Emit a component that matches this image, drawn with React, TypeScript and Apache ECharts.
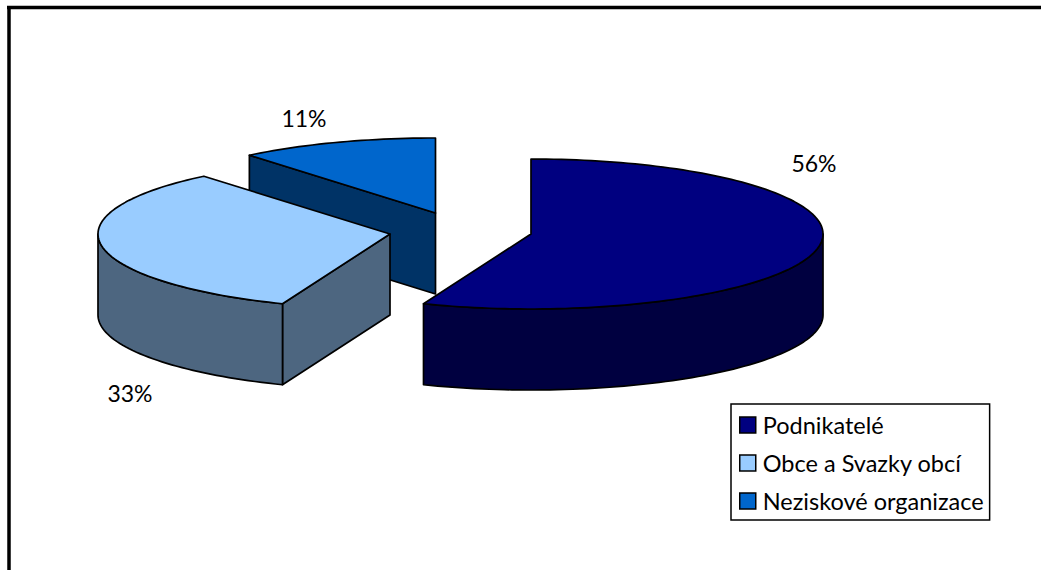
import React, { useEffect, useRef } from "react";
import * as echarts from "echarts";

const categories = ["Podnikatelé", "Obce a Svazky obcí", "Neziskové organizace"];
const values = [56, 33, 11];
const topColors = ["#000080", "#99CCFF", "#0066CC"];
const sideColors = ["#000040", "#4D6680", "#003366"];

// Layout of the exploded 3D pie (pixels)
const apexes = [[531, 234], [390, 234], [435.5, 213]];
const labelAnchors = [[814, 163], [130, 393], [304, 118]];
const RX = 292;
const RY = 75;
const DEPTH = 81;
const FONT = "Lato";
const STROKE = 1.7;

const total = values.reduce((a, b) => a + b, 0);
const startOf = (i: number) => (values.slice(0, i).reduce((a, b) => a + b, 0) / total) * 360;
const rad = (d: number) => (d * Math.PI) / 180;

function arcPoints(c: number[], from: number, to: number, dy = 0) {
  const steps = Math.max(1, Math.ceil((to - from) / 1.5));
  const pts: number[][] = [];
  for (let k = 0; k <= steps; k++) {
    const a = rad(from + ((to - from) * k) / steps);
    pts.push([c[0] + RX * Math.sin(a), c[1] - RY * Math.cos(a) + dy]);
  }
  return pts;
}

function makeRenderItem(i: number) {
  return (_params: any, api: any) => {
    const value = api.value(0) as number;
    const from = startOf(i);
    const to = from + (value / total) * 360;
    const c = apexes[i];
    const wallStyle = { fill: sideColors[i], stroke: "#000", lineWidth: STROKE, lineJoin: "round" };
    const children: any[] = [];
    const addWall = (p: number[]) =>
      children.push({
        type: "polygon",
        shape: { points: [c, p, [p[0], p[1] + DEPTH], [c[0], c[1] + DEPTH]] },
        style: wallStyle,
      });
    // A radial wall is seen only when its outward side points down the screen
    if (Math.sin(rad(from)) < -1e-6) addWall(arcPoints(c, from, from)[0]);
    if (Math.sin(rad(to)) > 1e-6) addWall(arcPoints(c, to, to)[0]);
    // Outer rim, front half only
    const rimFrom = Math.max(from, 90);
    const rimTo = Math.min(to, 270);
    if (rimTo > rimFrom) {
      const upper = arcPoints(c, rimFrom, rimTo);
      const lower = arcPoints(c, rimFrom, rimTo, DEPTH).reverse();
      children.push({
        type: "polygon",
        shape: { points: upper.concat(lower) },
        style: wallStyle,
      });
    }
    // Top face
    children.push({
      type: "polygon",
      shape: { points: [c, ...arcPoints(c, from, to)] },
      style: { fill: topColors[i], stroke: "#000", lineWidth: STROKE, lineJoin: "round" },
    });
    // Percentage label
    children.push({
      type: "text",
      x: labelAnchors[i][0],
      y: labelAnchors[i][1],
      style: {
        text: `${value}%`,
        fill: "#000",
        font: `23px ${FONT}`,
        align: "center",
        verticalAlign: "middle",
      },
    });
    return { type: "group", children };
  };
}

export default function App() {
  const ref = useRef<HTMLDivElement>(null);
  useEffect(() => {
    document.body.style.margin = "0";
    const chart = echarts.init(ref.current!, undefined, { renderer: "svg" });
    chart.setOption({
      animation: false,
      backgroundColor: "#fff",
      legend: {
        orient: "vertical",
        left: 731,
        top: 404,
        padding: [9, 6, 7, 8],
        itemGap: 14,
        itemWidth: 16,
        itemHeight: 16,
        borderColor: "#000",
        borderWidth: 1.5,
        selectedMode: false,
        data: categories.map((name, i) => ({
          name,
          icon: "rect",
          itemStyle: { color: topColors[i], borderColor: "#000", borderWidth: 1.5 },
        })),
        textStyle: {
          fontFamily: FONT,
          fontSize: 23.5,
          color: "#000",
          padding: [0, 0, 0, 2],
          lineHeight: 23,
        },
      },
      graphic: [
        { type: "line", shape: { x1: 7, y1: 7.5, x2: 1041, y2: 7.5 }, style: { stroke: "#000", lineWidth: 3.5 } },
        { type: "line", shape: { x1: 9, y1: 6, x2: 9, y2: 570 }, style: { stroke: "#000", lineWidth: 3.5 } },
      ],
      series: categories
        .map((name, i) => ({
          type: "custom",
          name,
          coordinateSystem: "none",
          silent: true,
          itemStyle: { color: topColors[i] },
          data: [[values[i]]],
          renderItem: makeRenderItem(i),
        }))
        .reverse(),
    });
    return () => chart.dispose();
  }, []);
  return <div ref={ref} style={{ width: 1041, height: 570 }} />;
}
